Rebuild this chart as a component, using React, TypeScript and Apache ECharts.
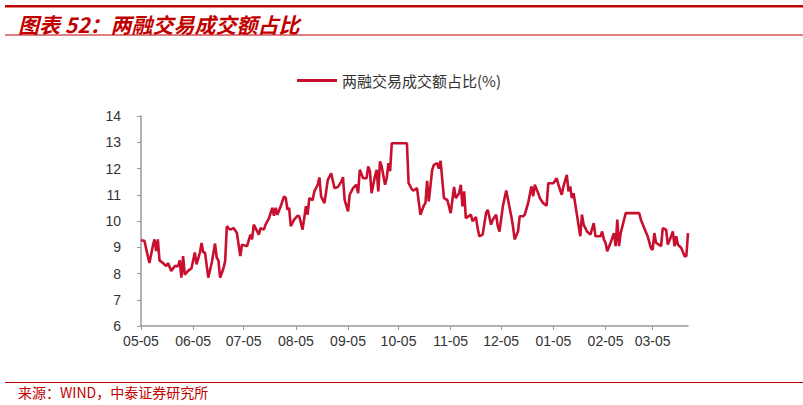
import React, { useEffect, useRef } from "react";
import * as echarts from "echarts";

const dates: string[] = [
  "2014-05-05", "2014-05-07", "2014-05-10", "2014-05-12", "2014-05-13", "2014-05-14", "2014-05-15", "2014-05-16",
  "2014-05-18", "2014-05-20", "2014-05-21", "2014-05-23", "2014-05-25", "2014-05-27", "2014-05-28", "2014-05-29",
  "2014-05-30", "2014-05-31", "2014-06-02", "2014-06-04", "2014-06-06", "2014-06-07", "2014-06-09", "2014-06-10",
  "2014-06-11", "2014-06-12", "2014-06-14", "2014-06-16", "2014-06-18", "2014-06-19", "2014-06-20", "2014-06-21",
  "2014-06-23", "2014-06-24", "2014-06-25", "2014-06-26", "2014-06-27", "2014-06-29", "2014-07-01", "2014-07-03",
  "2014-07-04", "2014-07-07", "2014-07-09", "2014-07-10", "2014-07-11", "2014-07-14", "2014-07-15", "2014-07-17",
  "2014-07-18", "2014-07-20", "2014-07-22", "2014-07-23", "2014-07-24", "2014-07-25", "2014-07-27", "2014-07-29",
  "2014-07-30", "2014-07-31", "2014-08-01", "2014-08-02", "2014-08-04", "2014-08-06", "2014-08-07", "2014-08-09",
  "2014-08-11", "2014-08-12", "2014-08-13", "2014-08-15", "2014-08-16", "2014-08-18", "2014-08-19", "2014-08-20",
  "2014-08-22", "2014-08-24", "2014-08-26", "2014-08-28", "2014-08-30", "2014-09-01", "2014-09-02", "2014-09-03",
  "2014-09-05", "2014-09-06", "2014-09-08", "2014-09-10", "2014-09-11", "2014-09-12", "2014-09-14", "2014-09-16",
  "2014-09-17", "2014-09-18", "2014-09-19", "2014-09-21", "2014-09-22", "2014-09-23", "2014-09-24", "2014-09-25",
  "2014-09-27", "2014-09-28", "2014-09-29", "2014-09-30", "2014-10-01", "2014-10-10", "2014-10-11", "2014-10-13",
  "2014-10-14", "2014-10-16", "2014-10-18", "2014-10-20", "2014-10-21", "2014-10-22", "2014-10-23", "2014-10-25",
  "2014-10-26", "2014-10-28", "2014-10-29", "2014-10-30", "2014-11-01", "2014-11-03", "2014-11-05", "2014-11-07",
  "2014-11-08", "2014-11-10", "2014-11-11", "2014-11-12", "2014-11-13", "2014-11-14", "2014-11-17", "2014-11-18",
  "2014-11-20", "2014-11-21", "2014-11-22", "2014-11-24", "2014-11-26", "2014-11-27", "2014-11-29", "2014-11-30",
  "2014-12-02", "2014-12-03", "2014-12-04", "2014-12-06", "2014-12-08", "2014-12-11", "2014-12-12", "2014-12-13",
  "2014-12-15", "2014-12-16", "2014-12-18", "2014-12-19", "2014-12-21", "2014-12-23", "2014-12-24", "2014-12-25",
  "2014-12-27", "2014-12-28", "2014-12-30", "2015-01-01", "2015-01-02", "2015-01-05", "2015-01-07", "2015-01-08",
  "2015-01-10", "2015-01-11", "2015-01-13", "2015-01-14", "2015-01-15", "2015-01-16", "2015-01-17", "2015-01-19",
  "2015-01-21", "2015-01-22", "2015-01-23", "2015-01-25", "2015-01-27", "2015-01-29", "2015-01-30", "2015-02-02",
  "2015-02-03", "2015-02-04", "2015-02-05", "2015-02-06", "2015-02-08", "2015-02-10", "2015-02-11", "2015-02-12",
  "2015-02-13", "2015-02-14", "2015-02-17", "2015-02-25", "2015-02-26", "2015-02-28", "2015-03-02", "2015-03-04",
  "2015-03-05", "2015-03-06", "2015-03-07", "2015-03-10", "2015-03-11", "2015-03-13", "2015-03-14", "2015-03-16",
  "2015-03-17", "2015-03-18", "2015-03-19", "2015-03-20", "2015-03-22", "2015-03-24", "2015-03-25", "2015-03-26",
];

const values: number[] = [
  9.27, 9.25, 8.4, 9.04, 9.3, 8.85, 9.3, 8.5,
  8.4, 8.28, 8.4, 8.1, 8.28, 8.28, 8.5, 7.84,
  8.66, 7.96, 8.1, 8.2, 8.8, 8.35, 8.8, 9.16,
  8.8, 8.8, 7.84, 8.4, 9.14, 8.6, 8.5, 7.84,
  8.2, 8.47, 9.8, 9.73, 9.67, 9.73, 9.54, 8.66,
  9.1, 9.04, 9.48, 9.3, 9.86, 9.48, 9.73, 9.67,
  9.86, 10.1, 10.5, 10.2, 10.5, 10.24, 10.56, 10.94,
  10.88, 10.43, 10.5, 9.8, 10.05, 10.2, 10.18, 9.67,
  10.56, 10.24, 10.87, 10.8, 11.13, 11.38, 11.66, 10.94,
  10.68, 11.57, 11.82, 11.25, 11.3, 11.5, 11.67, 10.8,
  10.37, 11.0, 11.25, 11.38, 11.06, 11.95, 11.63, 11.63,
  12.08, 11.9, 11.06, 11.7, 11.95, 11.13, 12.27, 12.08,
  11.38, 11.63, 12.2, 11.9, 12.96, 12.96, 11.44, 11.2,
  11.16, 11.25, 10.24, 10.58, 10.68, 11.53, 10.75, 11.95,
  12.14, 12.2, 12.0, 12.29, 10.87, 10.8, 10.3, 11.3,
  10.87, 11.06, 11.38, 10.56, 11.13, 10.11, 10.24, 9.99,
  10.15, 9.73, 9.42, 9.48, 10.3, 10.43, 9.86, 10.05,
  10.24, 9.8, 9.6, 10.56, 11.16, 10.18, 9.8, 9.3,
  9.6, 10.18, 10.18, 10.24, 10.68, 11.32, 10.94, 11.38,
  11.06, 10.87, 10.68, 10.58, 11.44, 11.44, 11.63, 11.38,
  11.0, 11.32, 11.76, 11.13, 11.32, 10.87, 11.06, 10.24,
  9.42, 10.24, 9.86, 9.6, 9.48, 9.92, 9.42, 9.42,
  9.6, 9.3, 9.17, 8.85, 9.17, 9.54, 9.04, 10.05,
  9.04, 9.54, 10.3, 10.3, 10.05, 9.73, 9.42, 8.97,
  8.9, 9.54, 9.17, 9.04, 9.73, 9.67, 9.1, 9.42,
  9.6, 9.04, 9.42, 9.1, 8.97, 8.66, 8.66, 9.54,
];

const tickDates: string[] = [
  "2014-05-05", "2014-06-05", "2014-07-05", "2014-08-05", "2014-09-05", "2014-10-05",
  "2014-11-05", "2014-12-05", "2015-01-05", "2015-02-05", "2015-03-05",
];

const axisStart = "2014-05-05";
const axisEnd = "2015-03-26";

const seriesName = "两融交易成交额占比(%)";
const titleText = "图表 52：两融交易成交额占比";
const sourceText = "来源：WIND，中泰证券研究所";

const toTs = (s: string): number => {
  const [y, m, d] = s.split("-").map(Number);
  return new Date(y, m - 1, d).getTime();
};
const pad = (n: number) => (n < 10 ? "0" + n : "" + n);

export default function App() {
  const ref = useRef<HTMLDivElement>(null);
  useEffect(() => {
    if (!ref.current) return;
    const chart = echarts.init(ref.current, undefined, { renderer: "svg" });
    const data = dates.map((d, i) => [toTs(d), values[i]]);
    const ticks = tickDates.map(toTs);
    const red = "#c00000";
    chart.setOption({
      animation: false,
      backgroundColor: "#ffffff",
      textStyle: { fontFamily: "'Liberation Sans', Arial, sans-serif" },
      grid: { left: 141, right: 115, top: 116, bottom: 79, containLabel: false },
      legend: {
        show: true,
        left: 297,
        top: 73,
        padding: 0,
        icon: "rect",
        itemWidth: 40,
        itemHeight: 3,
        itemGap: 10,
        textStyle: {
          fontSize: 15,
          color: "#333333",
          fontFamily: "'Noto Sans CJK SC', sans-serif",
        },
        data: [seriesName],
      },
      xAxis: {
        type: "value",
        min: toTs(axisStart),
        max: toTs(axisEnd),
        splitLine: { show: false },
        axisLine: { show: true, lineStyle: { color: "#999999", width: 1.5 } },
        axisTick: { show: true, length: 4, lineStyle: { color: "#999999" }, customValues: ticks },
        axisLabel: {
          customValues: ticks,
          margin: 8,
          fontSize: 14,
          color: "#333333",
          formatter: (v: number) => {
            const d = new Date(v);
            return pad(d.getMonth() + 1) + "-" + pad(d.getDate());
          },
        },
      },
      yAxis: {
        type: "value",
        min: 6,
        max: 14,
        interval: 1,
        splitLine: { show: false },
        axisLine: { show: true, lineStyle: { color: "#999999", width: 1.5 } },
        axisTick: { show: true, length: 4, lineStyle: { color: "#999999" } },
        axisLabel: { margin: 20, fontSize: 14, color: "#333333" },
      },
      series: [
        {
          name: seriesName,
          type: "line",
          data,
          showSymbol: false,
          symbol: "none",
          lineStyle: { color: "#c8102e", width: 2.6 },
          itemStyle: { color: "#c8102e" },
        },
      ],
      graphic: [
        { type: "rect", shape: { x: 5, y: 5, width: 798, height: 2.5 }, style: { fill: red } },
        {
          type: "text",
          x: 18,
          y: 24,
          style: {
            text: titleText,
            fill: red,
            font: "italic bold 21px 'Noto Sans CJK SC', sans-serif",
            verticalAlign: "middle",
          },
        },
        { type: "rect", shape: { x: 5, y: 34.5, width: 798, height: 1 }, style: { fill: red } },
        { type: "rect", shape: { x: 5, y: 382, width: 798, height: 1 }, style: { fill: red } },
        {
          type: "text",
          x: 18,
          y: 392,
          style: {
            text: sourceText,
            fill: red,
            font: "14px 'Noto Sans CJK SC', sans-serif",
            verticalAlign: "middle",
          },
        },
      ],
    });
    return () => chart.dispose();
  }, []);
  return (
    <div
      ref={ref}
      style={{ position: "fixed", left: 0, top: 0, width: 803, height: 405, background: "#fff" }}
    />
  );
}
